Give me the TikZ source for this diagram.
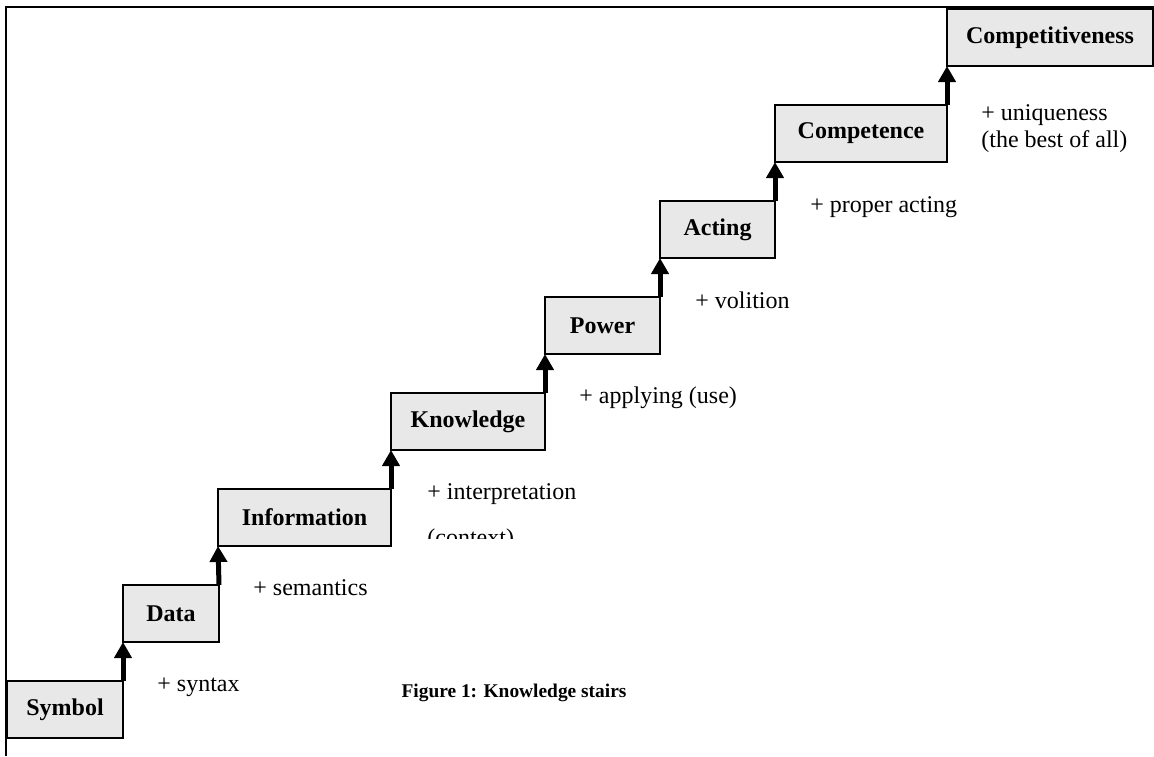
\documentclass[tikz,border=0pt]{standalone}
\usepackage{fontspec}
\setmainfont{Liberation Serif}
\usetikzlibrary{arrows.meta}
\definecolor{stairgray}{HTML}{E8E8E8}
\tikzset{
    stair/.style={draw, line width=1pt, fill=stairgray, inner sep=0pt, outer sep=0pt,
        minimum height=28.5pt, font=\fontsize{12}{14}\selectfont\bfseries},
    climb/.style={line width=2.5pt, -{Triangle[width=8.5pt,length=8pt]}},
    gain/.style={inner sep=0pt, anchor=base west, font=\fontsize{12}{14}\selectfont}
}

\begin{document}
\begin{tikzpicture}[x=0.5pt, y=-0.5pt]
        \useasboundingbox (0,0) rectangle (1154,756);
        \draw[line width=1pt] (6,756) -- (6,7) -- (1154,7);

        \node[stair, minimum width=58pt] at (65,709.5) (symbol) {Symbol};
        \node[stair, minimum width=48pt] at (171,613.5) (data) {Data};
        \node[stair, minimum width=86.5pt] at (304.5,517.5) (information) {Information};
        \node[stair, minimum width=77pt] at (468,421.5) (knowledge) {Knowledge};
        \node[stair, minimum width=57.5pt] at (602.5,325.5) (power) {Power};
        \node[stair, minimum width=57.5pt] at (717.5,229.5) (acting) {Acting};
        \node[stair, minimum width=86pt] at (861,133.5) (competence) {Competence};
        \node[stair, minimum width=103pt] at (1050,37.5) (competitiveness) {Competitiveness};

        \draw[climb] (symbol.north east) -- (data.south west);
        \draw[climb] (data.north east) -- (information.south west);
        \draw[climb] (information.north east) -- (knowledge.south west);
        \draw[climb] (knowledge.north east) -- (power.south west);
        \draw[climb] (power.north east) -- (acting.south west);
        \draw[climb] (acting.north east) -- (competence.south west);
        \draw[climb] (competence.north east) -- (competitiveness.south west);

        \node[gain] at (157,691) (syntax) {+ syntax};
        \node[gain] at (253,595) (semantics) {+ semantics};
        \node[gain] at (427,499) (interpretation) {+ interpretation};
        \begin{scope}
            \clip (420,510) rectangle (600,538);
            \node[gain] at (427,545) (context) {(context)};
        \end{scope}
        \node[gain] at (579,403) (applying) {+ applying (use)};
        \node[gain] at (695,308) (volition) {+ volition};
        \node[gain] at (810,212) (proper) {+ proper acting};
        \node[gain] at (981,120) (uniqueness) {+ uniqueness};
        \node[gain] at (981,147) (bestofall) {(the best of all)};

        \node[inner sep=0pt, anchor=base, font=\fontsize{9.7}{12}\selectfont\bfseries] at (514,697) (caption) {Figure 1: Knowledge stairs};
    \end{tikzpicture}
\end{document}
